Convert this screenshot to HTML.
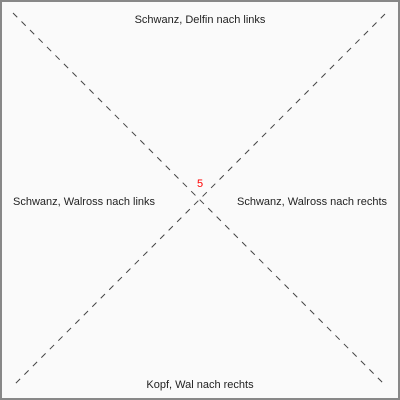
<!DOCTYPE html>
<html><head><meta charset="utf-8"><style>
html,body{margin:0;padding:0;background:#fafafa;}
svg{display:block;}
text{font-family:"Liberation Sans",sans-serif;font-size:11px;fill:#222;}
</style></head><body>
<svg width="400" height="400" viewBox="0 0 400 400">
<rect x="0" y="0" width="400" height="400" fill="#fafafa"/>
<rect x="1" y="1" width="398" height="398" fill="none" stroke="#888" stroke-width="2"/>
<line x1="13" y1="13" x2="385" y2="385" stroke="#444" stroke-width="1" stroke-dasharray="6,6"/>
<line x1="385" y1="14" x2="14" y2="385" stroke="#444" stroke-width="1" stroke-dasharray="6,6"/>
<text x="200" y="23" text-anchor="middle">Schwanz, Delfin nach links</text>
<text x="13" y="205">Schwanz, Walross nach links</text>
<text x="387" y="205" text-anchor="end">Schwanz, Walross nach rechts</text>
<text x="200" y="388" text-anchor="middle">Kopf, Wal nach rechts</text>
<text x="200" y="187" text-anchor="middle" style="fill:#f00">5</text>
</svg>
</body></html>
